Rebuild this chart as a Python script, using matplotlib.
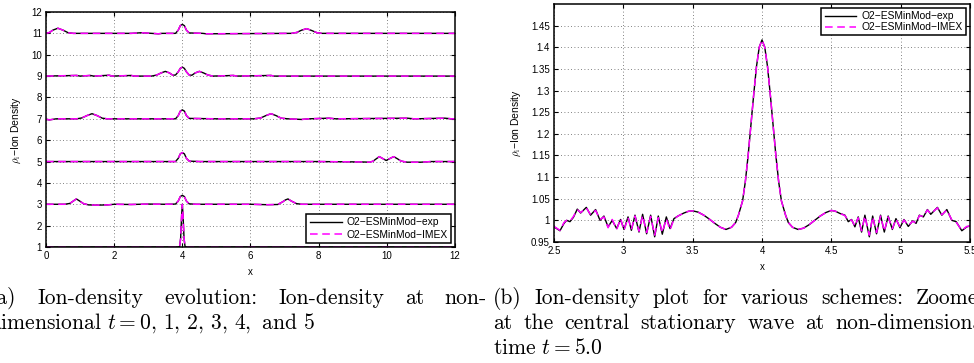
import numpy as np
import matplotlib
matplotlib.use("Agg")
import matplotlib.pyplot as plt
from matplotlib.ticker import FixedLocator, FuncFormatter

plt.rcParams['font.family'] = ['Liberation Sans', 'DejaVu Sans']
plt.rcParams['mathtext.fontset'] = 'cm'

# --- (a) ion density at t = 0..5, each curve offset by 2 ---
t0_x = [0, 2.6, 3.0, 3.85, 3.92, 3.95, 3.98, 4.0, 4.02, 4.05, 4.08, 4.15, 5.0, 12]
t0_y = [1, 1.0, 1.0, 1.0, 1.02, 1.4, 2.5, 3.0, 2.5, 1.4, 1.02, 1.0, 1.0, 1]

t1_x = [0, 0.55, 0.7, 0.8, 0.89, 0.98, 1.1, 1.25, 1.5, 1.8, 2.0, 2.5, 3.0, 3.5, 3.8, 3.88,
        3.94, 4.0, 4.06, 4.12, 4.2, 4.4, 5.0, 6.0, 6.5, 6.8, 6.95, 7.02, 7.1, 7.2, 7.35, 7.5, 8.0, 12]
t1_y = [3, 3.0, 3.04, 3.15, 3.25, 3.16, 3.03, 2.97, 2.96, 2.97, 3.0, 2.99, 3.01, 3.0, 3.01, 3.15,
        3.36, 3.42, 3.36, 3.15, 3.02, 3.0, 3.0, 3.0, 2.98, 2.99, 3.12, 3.2, 3.25, 3.15, 3.03, 3.0, 3.0, 3]

t2_x = [0, 3.8, 3.88, 3.94, 4.0, 4.06, 4.12, 4.2, 4.5, 6, 8, 9.3, 9.5, 9.6, 9.7, 9.78, 9.88,
        9.98, 10.1, 10.2, 10.3, 10.42, 10.6, 11.0, 11.3, 12]
t2_y = [5, 5.0, 5.15, 5.36, 5.42, 5.36, 5.15, 5.02, 5.0, 5.0, 5.0, 4.98, 4.97, 5.02, 5.14, 5.23, 5.14,
        5.05, 5.15, 5.23, 5.14, 5.02, 4.97, 4.97, 5.0, 5]

t3_x = [0, 0.1, 0.3, 0.9, 1.05, 1.2, 1.35, 1.5, 1.65, 1.8, 3.0, 3.8, 3.88, 3.94, 4.0, 4.06, 4.12,
        4.2, 5.0, 6.1, 6.3, 6.45, 6.6, 6.75, 6.9, 7.1, 7.5, 7.7, 8.3, 8.5, 10.6, 10.8, 11.7, 11.9, 12]
t3_y = [6.98, 6.95, 7.0, 7.0, 7.04, 7.15, 7.24, 7.15, 7.03, 7.0, 7.0, 7.0, 7.15, 7.36, 7.42, 7.36, 7.15,
        7.02, 7.0, 7.0, 7.04, 7.15, 7.24, 7.15, 7.03, 7.0, 6.97, 7.0, 7.03, 7.0, 7.03, 7.0, 7.03, 7.0, 7.0]

t4_x = [0, 0.9, 1.0, 1.3, 1.4, 1.85, 1.95, 2.5, 2.6, 3.1, 3.25, 3.38, 3.5, 3.62, 3.72, 3.8, 3.88,
        3.94, 4.0, 4.06, 4.12, 4.2, 4.28, 4.38, 4.5, 4.62, 4.75, 4.9, 5.5, 5.6, 6.6, 6.7, 8, 12]
t4_y = [9.0, 9.03, 9.0, 9.03, 9.0, 9.04, 9.0, 9.03, 9.0, 9.0, 9.05, 9.15, 9.22, 9.15, 9.04, 9.05, 9.2,
        9.36, 9.42, 9.36, 9.2, 9.05, 9.04, 9.15, 9.22, 9.15, 9.05, 9.0, 9.03, 9.0, 9.03, 9.0, 9.0, 9.0]

t5_x = [0, 0.1, 0.2, 0.35, 0.5, 0.65, 0.8, 2.5, 2.8, 3.3, 3.4, 3.8, 3.88, 3.94, 4.0, 4.06, 4.12,
        4.2, 4.6, 4.7, 7.2, 7.35, 7.5, 7.65, 7.8, 7.95, 8.1, 12]
t5_y = [11.0, 11.04, 11.15, 11.24, 11.15, 11.03, 11.0, 11.0, 11.03, 10.98, 11.0, 11.0, 11.15, 11.36,
        11.42, 11.36, 11.15, 11.02, 11.0, 10.98, 11.0, 11.04, 11.15, 11.22, 11.13, 11.03, 11.0, 11.0]

curves_x = [t0_x, t1_x, t2_x, t3_x, t4_x, t5_x]
curves_y = [t0_y, t1_y, t2_y, t3_y, t4_y, t5_y]

# --- (b) zoom at t = 5.0 ---
zoom_x = [2.5, 2.543, 2.572, 2.591, 2.615, 2.64, 2.668, 2.692, 2.733, 2.764, 2.80, 2.832, 2.86,
          2.89, 2.92, 2.952, 2.98, 3.005, 3.034, 3.058, 3.084, 3.113, 3.139, 3.168, 3.197, 3.226,
          3.252, 3.281, 3.31, 3.337, 3.365, 3.394, 3.437, 3.47, 3.5, 3.54, 3.58, 3.62, 3.66, 3.7,
          3.74, 3.78, 3.81, 3.83, 3.86, 3.88, 3.9, 3.92, 3.94, 3.96, 3.98, 4.0, 4.02, 4.04, 4.06,
          4.08, 4.1, 4.12, 4.14, 4.17, 4.19, 4.22, 4.26, 4.3, 4.34, 4.38, 4.42, 4.46, 4.5, 4.53,
          4.562, 4.598, 4.622, 4.646, 4.67, 4.694, 4.718, 4.742, 4.774, 4.798, 4.826, 4.855, 4.882,
          4.91, 4.94, 4.966, 4.995, 5.024, 5.055, 5.087, 5.111, 5.135, 5.164, 5.193, 5.217, 5.265,
          5.297, 5.333, 5.369, 5.4, 5.441, 5.477, 5.5]
zoom_exp = [0.985, 0.976, 0.993, 1.0, 0.997, 1.007, 1.026, 1.017, 1.03, 1.012, 1.025, 1.0, 1.01,
            0.985, 1.0, 0.981, 1.002, 0.979, 1.008, 0.977, 1.012, 0.973, 1.014, 0.969, 1.012, 0.962,
            1.01, 0.968, 1.008, 0.981, 1.004, 1.01, 1.017, 1.021, 1.022, 1.019, 1.012, 1.003, 0.993, 0.984,
            0.979, 0.984, 0.995, 1.012, 1.045, 1.09, 1.15, 1.22, 1.29, 1.355, 1.40, 1.417, 1.40, 1.355, 1.29,
            1.22, 1.15, 1.09, 1.045, 1.012, 0.995, 0.984, 0.979, 0.982, 0.99, 1.0, 1.01, 1.018, 1.023, 1.021,
            1.016, 1.012, 0.997, 1.002, 0.985, 1.008, 0.973, 1.012, 0.962, 1.01, 0.969, 1.012, 0.973,
            1.01, 0.979, 1.004, 0.983, 1.002, 0.986, 0.999, 0.993, 1.012, 1.008, 1.025, 1.014, 1.03,
            1.012, 1.025, 1.0, 0.997, 0.976, 0.985, 0.987]
zoom_imex = [0.986, 0.977, 0.995, 1.0, 0.998, 1.009, 1.025, 1.018, 1.029, 1.013, 1.023, 1.002, 1.008,
             0.983, 1.002, 0.979, 1.004, 0.977, 1.006, 0.979, 1.01, 0.975, 1.011, 0.972, 1.009, 0.966,
             1.006, 0.972, 1.004, 0.978, 1.003, 1.01, 1.017, 1.021, 1.022, 1.019, 1.012, 1.003, 0.993, 0.984,
             0.979, 0.984, 0.995, 1.012, 1.045, 1.09, 1.15, 1.22, 1.29, 1.355, 1.40, 1.417, 1.40, 1.355, 1.29,
             1.22, 1.15, 1.09, 1.045, 1.012, 0.995, 0.984, 0.979, 0.982, 0.99, 1.0, 1.01, 1.018, 1.023, 1.021,
             1.016, 1.011, 0.999, 1.001, 0.987, 1.006, 0.976, 1.01, 0.966, 1.008, 0.972, 1.01, 0.975,
             1.008, 0.981, 1.003, 0.985, 1.001, 0.988, 0.998, 0.994, 1.011, 1.009, 1.024, 1.015, 1.029,
             1.013, 1.024, 1.001, 0.996, 0.977, 0.986, 0.987]

a_xticks = [0, 2, 4, 6, 8, 10, 12]
a_yticks = [1, 2, 3, 4, 5, 6, 7, 8, 9, 10, 11, 12]
b_xticks = [2.5, 3, 3.5, 4, 4.5, 5, 5.5]
b_yticks = [0.95, 1, 1.05, 1.1, 1.15, 1.2, 1.25, 1.3, 1.35, 1.4, 1.45]

lbl_exp = "O2\u2212ESMinMod\u2212exp"
lbl_imex = "O2\u2212ESMinMod\u2212IMEX"
ylab = r"$\rho_{\rm i}$" + "\u2212Ion Density"

W, H = 974, 363
fig = plt.figure(figsize=(W / 100, H / 100), dpi=100)
ax1 = fig.add_axes([46 / W, 1 - 247 / H, 409 / W, 235 / H])
ax2 = fig.add_axes([554 / W, 1 - 242 / H, 416 / W, 238 / H])


def matlab_style(ax, xt, yt):
    ax.xaxis.set_major_locator(FixedLocator(xt))
    ax.yaxis.set_major_locator(FixedLocator(yt))
    fmt = FuncFormatter(lambda v, p: "%g" % v)
    ax.xaxis.set_major_formatter(fmt)
    ax.yaxis.set_major_formatter(fmt)
    ax.tick_params(direction='in', length=3, width=0.8, top=True, right=True,
                   labelsize=7, pad=3)
    ax.grid(True, color='0.35', linestyle=(0, (1, 3)), linewidth=0.6)
    for s in ax.spines.values():
        s.set_linewidth(1.1)
    ax.set_xlabel("x", fontsize=7, labelpad=4)
    ax.set_ylabel(ylab, fontsize=7.5, labelpad=6)


# left panel
for i in range(len(curves_x)):
    ax1.plot(curves_x[i], curves_y[i], color='black', linewidth=1.0,
             label=lbl_exp if i == 0 else None)
for i in range(len(curves_x)):
    ax1.plot(curves_x[i], curves_y[i], color='magenta', linewidth=1.1, dashes=(5, 3),
             label=lbl_imex if i == 0 else None)
ax1.set_xlim(0, 12)
ax1.set_ylim(1, 12)
matlab_style(ax1, a_xticks, a_yticks)
leg1 = ax1.legend(loc='lower right', fontsize=7.4, handlelength=3.2, handletextpad=0.4,
                  borderaxespad=0.4, fancybox=False, framealpha=1, edgecolor='black',
                  borderpad=0.3, labelspacing=0.25)
leg1.get_frame().set_linewidth(1.1)

# right panel
ax2.plot(zoom_x, zoom_exp, color='black', linewidth=1.0, label=lbl_exp)
ax2.plot(zoom_x, zoom_imex, color='magenta', linewidth=1.1, dashes=(5, 3), label=lbl_imex)
ax2.set_xlim(2.5, 5.5)
ax2.set_ylim(0.95, 1.5)
matlab_style(ax2, b_xticks, b_yticks)
leg2 = ax2.legend(loc='upper right', fontsize=7.4, handlelength=3.1, handletextpad=0.5,
                  borderaxespad=0.4, fancybox=False, framealpha=1, edgecolor='black',
                  borderpad=0.3, labelspacing=0.1)
leg2.get_frame().set_linewidth(1.1)

# captions (LaTeX-like, justified first lines)
cap_font = dict(family='cmr10', fontsize=15.5, va='center')
renderer = fig.canvas.get_renderer()


def justified(words, x0, x1, y):
    texts = [fig.text(0, 1 - y / H, w, **cap_font) for w in words]
    widths = [t.get_window_extent(renderer=renderer).width for t in texts]
    gap = (x1 - x0 - sum(widths)) / (len(words) - 1)
    x = x0
    for t, w in zip(texts, widths):
        t.set_x(x / W)
        x += w + gap


justified(["(a)", "Ion-density", "evolution:", "Ion-density", "at", "non-"], -11, 487, 298)
fig.text(-11 / W, 1 - 323 / H, r"dimensional $t = 0,\,1,\,2,\,3,\,4,$ and 5", **cap_font)
justified(["(b)", "Ion-density", "plot", "for", "various", "schemes:", "Zoomed"], 493, 990, 298)
justified(["at", "the", "central", "stationary", "wave", "at", "non-dimensional"], 493, 990, 323)
fig.text(493 / W, 1 - 348 / H, "time $t = 5.0$", **cap_font)

fig.savefig("out.png", dpi=100)
